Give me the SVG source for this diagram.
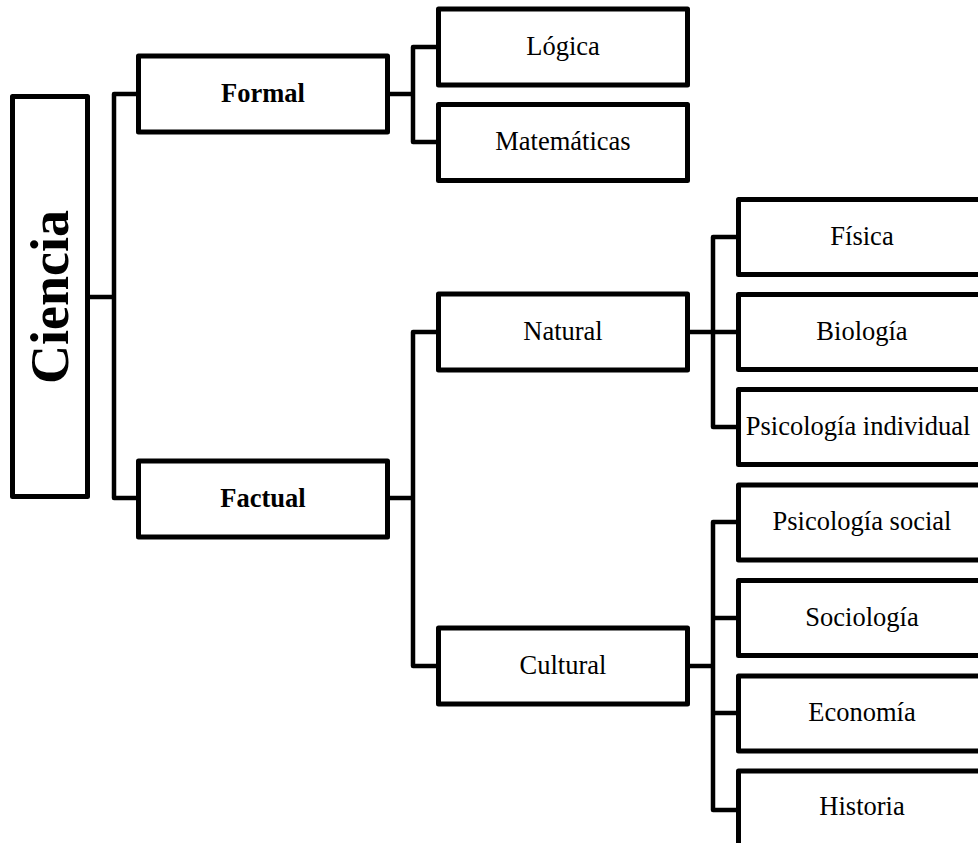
<svg xmlns="http://www.w3.org/2000/svg" width="978" height="843" viewBox="0 0 978 843">
<style>
.box{fill:#fff;stroke:#000;stroke-width:5;stroke-linejoin:round}
.con{fill:none;stroke:#000;stroke-width:4.5;stroke-linejoin:round}
.t{font-family:"Liberation Serif","Times New Roman",serif;font-size:26.5px;fill:#000;text-anchor:middle}
.b{font-weight:bold}
</style>
<rect width="978" height="843" fill="#fff"/>
<g id="connectors">
<path class="con" d="M88,297 H114"/>
<path class="con" d="M138,94 H114 V498 H138"/>
<path class="con" d="M388,94 H413"/>
<path class="con" d="M438,47 H413 V142 H438"/>
<path class="con" d="M388,498 H413"/>
<path class="con" d="M438,332 H413 V666 H438"/>
<path class="con" d="M688,332 H738"/>
<path class="con" d="M738,237 H713 V427 H738"/>
<path class="con" d="M688,666 H713"/>
<path class="con" d="M738,522 H713 V810 H738"/>
<path class="con" d="M713,618 H738"/>
<path class="con" d="M713,713 H738"/>
</g>
<g id="ciencia">
<rect class="box" x="12.5" y="96.5" width="75" height="400"/>
<text class="t b" style="font-size:54px" transform="translate(68,297) rotate(-90)">Ciencia</text>
</g>
<g id="formal">
<rect class="box" x="138.5" y="56" width="249" height="76"/>
<text class="t b" x="263" y="102">Formal</text>
</g>
<g id="factual">
<rect class="box" x="138.5" y="461" width="249" height="76"/>
<text class="t b" x="263" y="507">Factual</text>
</g>
<g id="logica">
<rect class="box" x="438.5" y="9" width="249" height="76"/>
<text class="t" x="563" y="55">Lógica</text>
</g>
<g id="matematicas">
<rect class="box" x="438.5" y="104.5" width="249" height="76"/>
<text class="t" x="563" y="150">Matemáticas</text>
</g>
<g id="natural">
<rect class="box" x="438.5" y="294" width="249" height="76"/>
<text class="t" x="563" y="340">Natural</text>
</g>
<g id="cultural">
<rect class="box" x="438.5" y="628" width="249" height="76"/>
<text class="t" x="563" y="674">Cultural</text>
</g>
<g id="fisica">
<rect class="box" x="738.5" y="199.5" width="260" height="75"/>
<text class="t" x="862" y="245">Física</text>
</g>
<g id="biologia">
<rect class="box" x="738.5" y="294.5" width="260" height="75"/>
<text class="t" x="862" y="340">Biología</text>
</g>
<g id="psicologia-individual">
<rect class="box" x="738.5" y="389.5" width="260" height="75"/>
<text class="t" x="858" y="435">Psicología individual</text>
</g>
<g id="psicologia-social">
<rect class="box" x="738.5" y="485" width="260" height="75"/>
<text class="t" x="862" y="530">Psicología social</text>
</g>
<g id="sociologia">
<rect class="box" x="738.5" y="580.5" width="260" height="75"/>
<text class="t" x="862" y="626">Sociología</text>
</g>
<g id="economia">
<rect class="box" x="738.5" y="676" width="260" height="75"/>
<text class="t" x="862" y="721">Economía</text>
</g>
<g id="historia">
<rect class="box" x="738.5" y="771" width="260" height="80"/>
<text class="t" x="862" y="815">Historia</text>
</g>
</svg>
